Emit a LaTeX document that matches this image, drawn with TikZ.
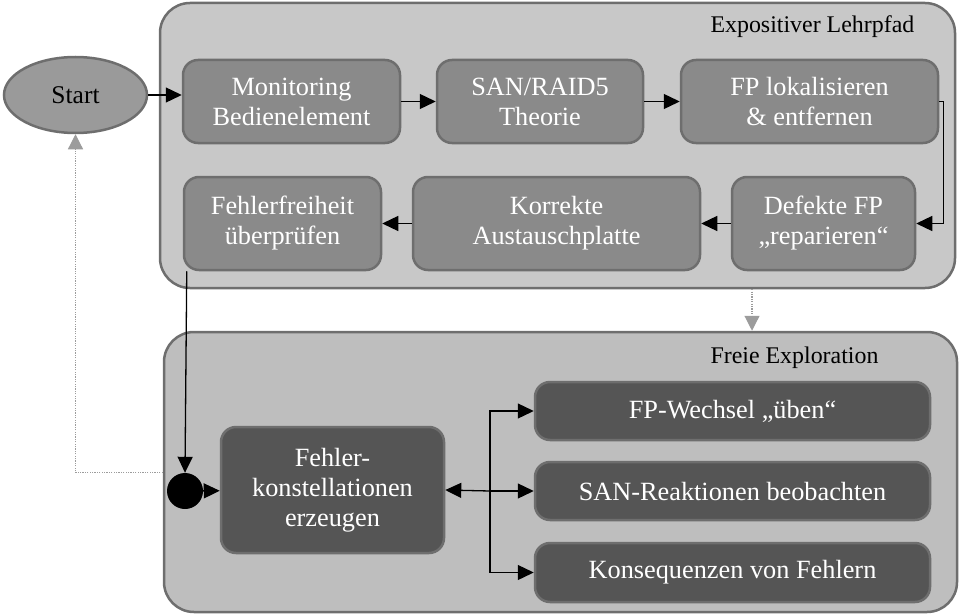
\documentclass[tikz,border=0pt]{standalone}
\usepackage{fontspec}
\setmainfont{Liberation Serif}
\usetikzlibrary{arrows.meta,shapes.geometric}

\definecolor{rahmen}{HTML}{6E6E6E}
\definecolor{hellgrau}{HTML}{C8C8C8}
\definecolor{exgrau}{HTML}{BEBEBE}
\definecolor{startgrau}{HTML}{9A9A9A}
\definecolor{mittelgrau}{HTML}{8A8A8A}
\definecolor{dunkelgrau}{HTML}{555555}
\definecolor{punktgrau}{HTML}{9C9C9C}

\tikzset{
  bereich/.style={draw=rahmen, line width=2.5pt, rounded corners=30pt, inner sep=0pt},
  schritt/.style={draw=rahmen, line width=2.5pt, rounded corners=15pt, fill=mittelgrau,
    text=white, align=center, inner sep=0pt, font=\fontsize{26.3}{30}\selectfont},
  dunkel/.style={schritt, fill=dunkelgrau},
  titel/.style={anchor=base west, font=\fontsize{23.9}{28}\selectfont},
  pfeil/.style={-{Triangle[length=16pt,width=15pt]}, line width=1.3pt},
  rueck/.style={-{Triangle[length=15pt,width=15pt]}, line width=1.2pt, draw=punktgrau,
    dash pattern=on 1.2pt off 1.2pt}
}

\begin{document}
\begin{tikzpicture}[x=1pt,y=-1pt]
\useasboundingbox (0,0) rectangle (960,615);
% Bereiche:
\node[bereich, fill=hellgrau, minimum width=795pt, minimum height=285pt] (lehr) at (557.5,145.5) {};
\node[bereich, fill=exgrau, minimum width=793pt, minimum height=280pt] (explo) at (560.5,472) {};
\node[titel] (lehrtitel) at (707,33) {Expositiver Lehrpfad};
\node[titel] (explotitel) at (707,363) {Freie Exploration};
% Start:
\node[ellipse, draw=rahmen, line width=2.5pt, fill=startgrau, inner sep=0pt,
  minimum width=143pt, minimum height=76pt, font=\fontsize{25.5}{30}\selectfont] (start) at (75.5,95) {Start};
% Lehrpfad, obere Reihe:
\node[schritt, minimum width=217pt, minimum height=83pt] (mon) at (291.5,101.5) {Monitoring\\Bedienelement};
\node[schritt, minimum width=206pt, minimum height=83pt] (san) at (540,101.5) {SAN/RAID5\\Theorie};
\node[schritt, minimum width=257pt, minimum height=83pt] (lok) at (809.5,101.5) {FP lokalisieren\\\& entfernen};
% Lehrpfad, untere Reihe:
\node[schritt, minimum width=183pt, minimum height=93pt] (def) at (823.5,223.5) {Defekte FP\\„reparieren“};
\node[schritt, minimum width=287pt, minimum height=93pt] (kor) at (556.5,223.5) {Korrekte\\Austauschplatte};
\node[schritt, minimum width=197pt, minimum height=93pt] (fehl) at (282.5,223.5) {Fehlerfreiheit\\überprüfen};
% Exploration:
\node[circle, fill=black, minimum size=36pt, inner sep=0pt] (kreis) at (185,491) {};
\node[dunkel, minimum width=223pt, minimum height=126pt] (erz) at (332.5,490) {Fehler-\\konstellationen\\erzeugen};
\node[dunkel, minimum width=395pt, minimum height=58pt] (ueb) at (732.5,411) {FP-Wechsel „üben“};
\node[dunkel, minimum width=395pt, minimum height=58pt] (rea) at (732.5,491) {SAN-Reaktionen beobachten};
\node[dunkel, minimum width=395pt, minimum height=59pt] (kons) at (732.5,572.5) {Konsequenzen von Fehlern};
\coordinate (verz) at (490,491);
% Pfeile Lehrpfad:
\draw[pfeil] (start.east) -- (start.east -| mon.west);
\draw[pfeil] (mon) -- (san);
\draw[pfeil] (san) -- (lok);
\draw[pfeil] (lok.east) -- ++(4,0) |- (def.east);
\draw[pfeil] (def) -- (kor);
\draw[pfeil] (kor) -- (fehl);
\draw[pfeil] ([xshift=4pt]fehl.south west) -- (kreis.north);
% Pfeile Exploration:
\draw[pfeil] (kreis) -- (erz);
\draw[pfeil] (verz) -- (erz.east);
\draw[pfeil] (verz) |- (ueb.west);
\draw[pfeil] (verz) -- (rea.west);
\draw[pfeil] (verz) |- (kons.west);
% gepunktete Pfeile:
\draw[rueck] (kreis.north -| explo.west) -| (start.south);
\draw[rueck] ([xshift=194.5pt]lehr.south) -- ([xshift=194.5pt]lehr.south |- explo.north);
\end{tikzpicture}
\end{document}
